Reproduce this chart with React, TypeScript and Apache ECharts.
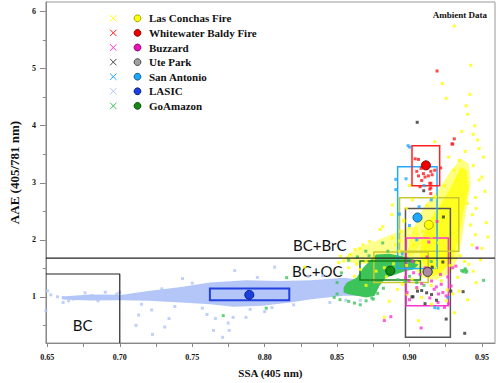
import React, { useEffect, useRef } from "react";
import * as echarts from "echarts";

// ---------- axes ----------
const X_MIN = 0.649;
const X_MAX = 0.959;
const Y_MIN = 0.19;
const Y_MAX = 6.17;
const X_LABELS = [0.65, 0.7, 0.75, 0.8, 0.85, 0.9, 0.95];
const X_TICKS = [0.65, 0.675, 0.7, 0.725, 0.75, 0.775, 0.8, 0.825, 0.85, 0.875, 0.9, 0.925, 0.95];
const Y_LABELS = [1, 2, 3, 4, 5, 6];
const Y_MINOR = [0.5, 1.5, 2.5, 3.5, 4.5, 5.5];

// ---------- reference regions ----------
const BRC_LINE_Y = 1.68;
const BC_BOX_X = 0.7;
const BC_BOX_Y = 1.4;
const REGION_NAMES = ["BC", "BC+BrC", "BC+OC"];
const REGION_POS = [
  [0.6743, 0.5],
  [0.838, 1.909],
  [0.8363, 1.449],
];

// ---------- datasets ----------
const NAMES = ["Las Conchas Fire", "Whitewater Baldy Fire", "Buzzard", "Ute Park", "San Antonio", "LASIC", "GoAmazon"];
const POINT_COLORS = ["#ffff00", "#ff1a1a", "#ff33cc", "#333333", "#1ea7ff", "#b3c6f7", "#3cc45a"];
const DOT_COLORS = ["#ffff00", "#ee0000", "#ee11bb", "#a0a0a0", "#1ea7ff", "#1c3fe0", "#138a13"];
const DOT_EDGES = ["#a6a600", "#880000", "#880066", "#444444", "#0b5f99", "#0a1f80", "#0a4a0a"];
const BOX_COLORS = ["#c9c92e", "#ff2020", "#ff33cc", "#555555", "#22aaff", "#2340e0", "#1b7d1b"];

// means [SSA, AAE]
const MEANS = [
  [0.9133, 2.262],
  [0.9113, 3.305],
  [0.9125, 1.44],
  [0.9125, 1.435],
  [0.9055, 2.39],
  [0.7894, 1.035],
  [0.8867, 1.457],
];

// boxes [SSA min, SSA max, AAE min, AAE max]
const BOXES = [
  [0.8972, 0.9282, 0.292, 2.547],
  [0.8977, 0.9268, 0.843, 2.031],
  [0.8931, 0.934, 1.8, 2.739],
  [0.8754, 0.9129, 1.249, 1.787],
  [0.8918, 0.919, 1.497, 3.283],
  [0.9017, 0.9208, 2.947, 3.648],
  [0.8658, 0.9075, 1.296, 1.626],
  [0.7622, 0.817, 0.941, 1.144],
];
const BOX_OWNER = [3, 2, 0, 0, 4, 1, 6, 5];

// dense clouds (outlines of the point clouds)
const LASIC_CLOUD = [
  [0.6604, 1.005], [0.6793, 1.04], [0.7018, 1.035], [0.7197, 1.104], [0.7422, 1.174], [0.7624, 1.249],
  [0.7871, 1.289], [0.8096, 1.278], [0.8321, 1.289], [0.8545, 1.336], [0.8666, 1.3], [0.8747, 1.162],
  [0.868, 1.017], [0.8545, 1.017], [0.8321, 0.958], [0.8175, 0.901], [0.7984, 0.844], [0.7782, 0.826],
  [0.7624, 0.871], [0.7422, 0.901], [0.7197, 0.93], [0.7018, 0.941], [0.6793, 0.936], [0.6604, 0.953],
];
const CONCHAS_TAIL = [
  [0.8565, 1.718], [0.868, 1.892], [0.8815, 2.031], [0.895, 2.17], [0.9051, 2.24], [0.9084, 1.944],
  [0.9017, 1.718], [0.8916, 1.648], [0.8781, 1.579], [0.8646, 1.579], [0.8565, 1.614],
];
const CONCHAS_CLOUD = [
  [0.8983, 1.648], [0.9003, 2.031], [0.905, 2.344], [0.9118, 2.639], [0.9206, 2.9], [0.9287, 3.213],
  [0.9354, 3.422], [0.9408, 3.335], [0.9422, 2.987], [0.9394, 2.552], [0.9367, 2.118], [0.9341, 1.718],
  [0.9287, 1.422], [0.9186, 1.301], [0.9084, 1.336],
];
const CONCHAS_CORE = [
  [0.9071, 1.718], [0.9084, 2.031], [0.9138, 2.344], [0.9219, 2.639], [0.93, 2.987], [0.9354, 3.283],
  [0.9394, 3.213], [0.9408, 2.9], [0.9368, 2.466], [0.9341, 2.031], [0.93, 1.648], [0.9219, 1.422], [0.9138, 1.336],
];
const GOAMAZON_CLOUD = [
  [0.8545, 1.162], [0.8567, 1.249], [0.8635, 1.336], [0.868, 1.509], [0.8725, 1.626], [0.877, 1.741],
  [0.886, 1.753], [0.895, 1.713], [0.9028, 1.654], [0.9062, 1.567], [0.9028, 1.48], [0.8972, 1.452],
  [0.8904, 1.393], [0.8837, 1.336], [0.8792, 1.191], [0.8759, 1.017], [0.8702, 0.988], [0.8635, 1.017],
  [0.8579, 1.045], [0.8545, 1.075],
];

// individual points
const LAS_CONCHAS_PTS = [
  [0.9174, 3.72], [0.9342, 3.39], [0.9309, 3.22], [0.9455, 2.74], [0.9399, 2.64], [0.9433, 2.44], [0.9421, 2.26],
  [0.8882, 2.61], [0.8877, 2.44], [0.8815, 2.23], [0.8797, 2.18], [0.8725, 1.97], [0.868, 1.91], [0.8658, 1.85],
  [0.8624, 1.83], [0.859, 1.74], [0.8567, 1.68], [0.8545, 1.63], [0.8882, 2.03], [0.8904, 1.91], [0.8938, 2.15],
  [0.8961, 2.32], [0.8995, 2.2], [0.8927, 1.8], [0.8826, 1.51], [0.877, 1.45], [0.8635, 1.57], [0.858, 1.51],
  [0.9017, 1.31], [0.895, 1.22], [0.8916, 1.13], [0.8983, 1.05], [0.9084, 0.99], [0.9152, 0.87], [0.9062, 0.58],
  [0.9253, 0.93], [0.9298, 1.05], [0.9342, 1.1], [0.9332, 1.34], [0.941, 1.57], [0.9455, 2.09], [0.9433, 1.91],
  [0.8826, 0.64], [0.9309, 5.75], [0.9422, 5.06], [0.9226, 4.74], [0.9417, 4.55], [0.9253, 4.48], [0.8511, 1.6],
  [0.8523, 1.71], [0.8276, 1.52], [0.94, 4.2], [0.945, 4.0], [0.936, 3.9], [0.948, 3.6], [0.9385, 3.55],
  [0.927, 3.45], [0.944, 3.3], [0.95, 3.1], [0.952, 2.85], [0.924, 2.95], [0.918, 2.75], [0.912, 2.6],
  [0.905, 2.45], [0.902, 2.7], [0.898, 2.55], [0.909, 2.15], [0.915, 2.05], [0.92, 1.95], [0.925, 1.75],
  [0.93, 1.85], [0.935, 1.72], [0.938, 1.62], [0.944, 1.45], [0.928, 1.55], [0.918, 1.5], [0.905, 1.6],
  [0.898, 1.55], [0.91, 1.45], [0.922, 1.28], [0.915, 1.2], [0.905, 1.15], [0.926, 1.12], [0.884, 1.35],
  [0.889, 1.58], [0.875, 1.68], [0.87, 1.62], [0.866, 1.48], [0.862, 1.36], [0.87, 1.2], [0.886, 0.92],
  [0.95, 1.85], [0.953, 2.3], [0.946, 2.55], [0.948, 3.05], [0.951, 3.45], [0.947, 3.75], [0.954, 2.05],
  [0.949, 1.65], [0.946, 1.25], [0.94, 0.95], [0.931, 0.72], [0.944, 3.85], [0.939, 4.35], [0.933, 3.05],
  [0.9, 2.95], [0.896, 2.35], [0.893, 1.98], [0.911, 1.85], [0.903, 1.9],
];
const WHITEWATER_PTS = [
  [0.9039, 3.42], [0.9062, 3.41], [0.905, 3.2], [0.908, 3.25], [0.9096, 3.16], [0.9062, 3.12], [0.9107, 3.1],
  [0.9084, 3.04], [0.9147, 3.2], [0.9174, 3.22], [0.9156, 3.14], [0.913, 3.12], [0.9215, 3.26], [0.9147, 2.99],
  [0.914, 2.89], [0.9147, 2.81], [0.9073, 2.93], [0.9293, 3.68], [0.9309, 3.77], [0.9298, 3.68], [0.919, 4.96],
  [0.914, 2.99], [0.9147, 2.91],
];
const BUZZARD_PTS = [
  [0.8972, 1.336], [0.8995, 1.278], [0.9028, 1.422], [0.9073, 1.393], [0.9107, 1.509], [0.9133, 1.961],
  [0.9152, 1.278], [0.9185, 1.174], [0.9219, 1.219], [0.923, 1.075], [0.9253, 1.017], [0.9264, 1.348],
  [0.9298, 1.509], [0.932, 1.539], [0.9214, 1.393], [0.917, 1.132], [0.905, 1.162], [0.9084, 1.231],
  [0.8983, 1.075], [0.9197, 0.901], [0.9241, 0.814], [0.8871, 0.652], [0.8826, 0.583], [0.908, 0.454],
  [0.9287, 1.191], [0.9466, 1.857], [0.912, 1.7], [0.902, 1.62], [0.92, 1.05], [0.914, 0.98], [0.9, 0.95],
  [0.927, 0.88], [0.919, 2.32],
];
const UTE_PARK_PTS = [
  [0.9053, 4.06], [0.9098, 2.86], [0.9234, 2.4], [0.9156, 1.52], [0.9017, 1.0], [0.9084, 1.11], [0.9118, 1.07],
  [0.9152, 1.04], [0.9186, 0.94], [0.9107, 0.88], [0.9253, 0.61], [0.9381, 0.36], [0.937, 1.09], [0.9055, 1.1],
  [0.9285, 1.1], [0.923, 1.61], [0.9024, 1.0],
];
const SAN_ANTONIO_PTS = [
  [0.899, 3.65], [0.9001, 3.625], [0.8905, 3.06], [0.8976, 3.07], [0.8905, 2.88], [0.9066, 2.58], [0.9197, 0.8],
  [0.9264, 0.99], [0.9174, 0.81], [0.905, 2.0], [0.895, 1.75], [0.91, 2.95], [0.915, 2.7], [0.9, 2.25], [0.893, 2.45],
];
const LASIC_PTS = [
  [0.6501, 1.104], [0.6524, 1.035], [0.649, 0.757], [0.6609, 0.988], [0.6609, 0.9], [0.6647, 0.93], [0.657, 1.0],
  [0.668, 0.96], [0.672, 0.98], [0.676, 1.07], [0.681, 1.02], [0.685, 0.93], [0.69, 1.08], [0.694, 0.99],
  [0.698, 1.05], [0.7, 1.08], [0.703, 0.99], [0.7226, 0.34], [0.771, 0.29], [0.7755, 0.41], [0.7793, 1.46],
  [0.8069, 1.52], [0.7433, 1.32], [0.713, 0.68], [0.722, 0.77], [0.7112, 0.5], [0.731, 0.47], [0.7602, 0.69],
  [0.7748, 0.54], [0.7782, 0.64], [0.7871, 0.64], [0.7647, 0.41], [0.738, 0.83], [0.75, 1.24], [0.83, 1.36],
  [0.845, 0.9], [0.82, 0.86], [0.805, 0.81], [0.79, 0.78], [0.757, 0.8], [0.729, 1.14], [0.715, 0.87],
  [0.795, 1.34], [0.84, 1.37], [0.856, 0.94], [0.866, 0.94], [0.8, 0.74], [0.766, 0.62], [0.734, 0.62], [0.726, 0.96],
];
const GOAMAZON_PTS = [
  [0.85, 1.05], [0.848, 0.99], [0.852, 0.95], [0.858, 0.92], [0.862, 0.89], [0.87, 0.93], [0.875, 0.96],
  [0.8815, 1.944], [0.8698, 1.8], [0.9511, 1.289], [0.8152, 1.336], [0.8011, 0.8], [0.7714, 0.67], [0.905, 1.25],
  [0.91, 1.2], [0.9, 1.36], [0.882, 1.15], [0.878, 1.06], [0.866, 0.86], [0.937, 1.44], [0.938, 1.47],
  [0.9395, 1.45], [0.936, 1.46], [0.939, 1.43], [0.9385, 1.49], [0.872, 1.72], [0.864, 1.7], [0.858, 1.64],
  [0.853, 1.42], [0.85, 1.25], [0.892, 1.3], [0.897, 1.27], [0.915, 1.62], [0.885, 1.8], [0.874, 0.98],
];
const POINTS = [LAS_CONCHAS_PTS, WHITEWATER_PTS, BUZZARD_PTS, UTE_PARK_PTS, SAN_ANTONIO_PTS, LASIC_PTS, GOAMAZON_PTS];
const POINT_ORDER = [5, 0, 6, 4, 2, 1, 3];

const SERIF = "Liberation Serif, Times New Roman, serif";

function cloudSeries(points: number[][], color: string, opacity: number) {
  return {
    type: "custom",
    silent: true,
    clip: true,
    data: [points[0]],
    renderItem: (_p: any, api: any) => ({
      type: "polygon",
      shape: { points: points.map((p) => api.coord(p)) },
      style: { fill: color, opacity },
    }),
  };
}

export default function App() {
  const ref = useRef<HTMLDivElement>(null);
  useEffect(() => {
    if (!ref.current) return;
    const chart = echarts.init(ref.current, undefined, { renderer: "svg" });

    const series: any[] = [];
    series.push(cloudSeries(LASIC_CLOUD, POINT_COLORS[5], 1));
    series.push(cloudSeries(CONCHAS_TAIL, POINT_COLORS[0], 0.45));
    series.push(cloudSeries(CONCHAS_CLOUD, POINT_COLORS[0], 0.5));
    series.push(cloudSeries(CONCHAS_CORE, POINT_COLORS[0], 0.75));
    series.push(cloudSeries(GOAMAZON_CLOUD, POINT_COLORS[6], 1));

    POINT_ORDER.forEach((i) => {
      series.push({
        type: "scatter",
        name: NAMES[i] + " pts",
        data: POINTS[i],
        symbol: "rect",
        symbolSize: 3,
        itemStyle: { color: POINT_COLORS[i] },
        silent: true,
      });
    });

    series.push({
      type: "line",
      data: [[X_MIN, BRC_LINE_Y], [X_MAX, BRC_LINE_Y]],
      symbol: "none",
      lineStyle: { color: "#222", width: 1.2 },
      silent: true,
    });
    series.push({
      type: "line",
      data: [[X_MIN, BC_BOX_Y], [BC_BOX_X, BC_BOX_Y], [BC_BOX_X, Y_MIN]],
      symbol: "none",
      lineStyle: { color: "#222", width: 1.2 },
      silent: true,
    });

    series.push({
      type: "custom",
      silent: true,
      data: BOXES.map((b, i) => ({ value: b, idx: i })),
      encode: { x: [0, 1], y: [2, 3] },
      renderItem: (params: any, api: any) => {
        const p1 = api.coord([api.value(0), api.value(3)]);
        const p2 = api.coord([api.value(1), api.value(2)]);
        const owner = BOX_OWNER[params.dataIndex];
        return {
          type: "rect",
          shape: { x: p1[0], y: p1[1], width: p2[0] - p1[0], height: p2[1] - p1[1] },
          style: { fill: "none", stroke: BOX_COLORS[owner], lineWidth: owner === 5 ? 2 : 1.5 },
        };
      },
    });

    [2, 3, 0, 4, 1, 6, 5].forEach((i) => {
      series.push({
        type: "scatter",
        name: NAMES[i] + " mean",
        data: [MEANS[i]],
        symbol: "circle",
        symbolSize: 9,
        itemStyle: { color: DOT_COLORS[i], borderColor: DOT_EDGES[i], borderWidth: 1, opacity: i === 3 ? 0.85 : 1 },
        silent: true,
      });
    });

    series.push({
      type: "custom",
      silent: true,
      data: REGION_POS,
      renderItem: (params: any, api: any) => {
        const p = api.coord([api.value(0), api.value(1)]);
        return {
          type: "text",
          x: p[0],
          y: p[1],
          style: {
            text: REGION_NAMES[params.dataIndex],
            align: "center",
            verticalAlign: "middle",
            fontFamily: "Lato, sans-serif",
            fontSize: 15,
            fill: "#111",
          },
        };
      },
    });

    const graphic: any[] = [];
    const rowY = (i: number) => 18.3 + i * 14.6;
    NAMES.forEach((name, i) => {
      const y = rowY(i);
      const cx = 113.3;
      const crossColor = POINT_COLORS[i] === "#333333" ? "#444" : POINT_COLORS[i];
      graphic.push({
        type: "line",
        shape: { x1: cx - 3.2, y1: y - 3.2, x2: cx + 3.2, y2: y + 3.2 },
        style: { stroke: crossColor, lineWidth: 1 },
      });
      graphic.push({
        type: "line",
        shape: { x1: cx - 3.2, y1: y + 3.2, x2: cx + 3.2, y2: y - 3.2 },
        style: { stroke: crossColor, lineWidth: 1 },
      });
      graphic.push({
        type: "circle",
        shape: { cx: 137.5, cy: y, r: 3.4 },
        style: { fill: DOT_COLORS[i], stroke: DOT_EDGES[i], lineWidth: 1 },
      });
      graphic.push({
        type: "text",
        x: 149,
        y,
        style: {
          text: name,
          fontFamily: SERIF,
          fontWeight: "bold",
          fontSize: 11,
          fill: "#111",
          verticalAlign: "middle",
          align: "left",
        },
      });
    });
    graphic.push({
      type: "text",
      x: 487,
      y: 15,
      style: {
        text: "Ambient Data",
        fontFamily: SERIF,
        fontWeight: "bold",
        fontSize: 9,
        fill: "#111",
        align: "right",
        verticalAlign: "middle",
      },
    });

    chart.setOption({
      animation: false,
      backgroundColor: "#fff",
      grid: { left: 34, right: 5, top: 2, bottom: 37, show: true, borderColor: "#999", borderWidth: 1 },
      xAxis: {
        type: "value",
        min: X_MIN,
        max: X_MAX,
        name: "SSA (405 nm)",
        nameLocation: "middle",
        nameGap: 24,
        nameTextStyle: { fontFamily: SERIF, fontWeight: "bold", fontSize: 11, color: "#111" },
        axisLine: { show: true, lineStyle: { color: "#888" } },
        axisTick: { show: true, length: 4, customValues: X_TICKS, lineStyle: { color: "#888" } },
        axisLabel: {
          customValues: X_LABELS,
          formatter: (v: number) => v.toFixed(2),
          fontFamily: SERIF,
          fontWeight: "bold",
          fontSize: 8,
          color: "#111",
          margin: 10,
        },
        splitLine: { show: false },
      },
      yAxis: [
        {
          type: "value",
          min: Y_MIN,
          max: Y_MAX,
          name: "AAE (405/781 nm)",
          nameLocation: "middle",
          nameGap: 17,
          nameTextStyle: { fontFamily: SERIF, fontWeight: "bold", fontSize: 13, color: "#111" },
          axisLine: { show: true, lineStyle: { color: "#888" } },
          axisTick: { show: true, length: 6, customValues: Y_LABELS, lineStyle: { color: "#888" } },
          axisLabel: {
            customValues: Y_LABELS,
            formatter: (v: number) => String(v),
            fontFamily: SERIF,
            fontWeight: "bold",
            fontSize: 8,
            color: "#111",
            margin: 10,
          },
          splitLine: { show: false },
        },
        {
          type: "value",
          min: Y_MIN,
          max: Y_MAX,
          position: "left",
          axisLine: { show: false },
          axisTick: { show: true, length: 3, customValues: Y_MINOR, lineStyle: { color: "#888" } },
          axisLabel: { show: false },
          splitLine: { show: false },
        },
      ],
      graphic,
      series,
    });
    return () => chart.dispose();
  }, []);
  return <div ref={ref} style={{ position: "fixed", left: 0, top: 0, width: 500, height: 383 }} />;
}
